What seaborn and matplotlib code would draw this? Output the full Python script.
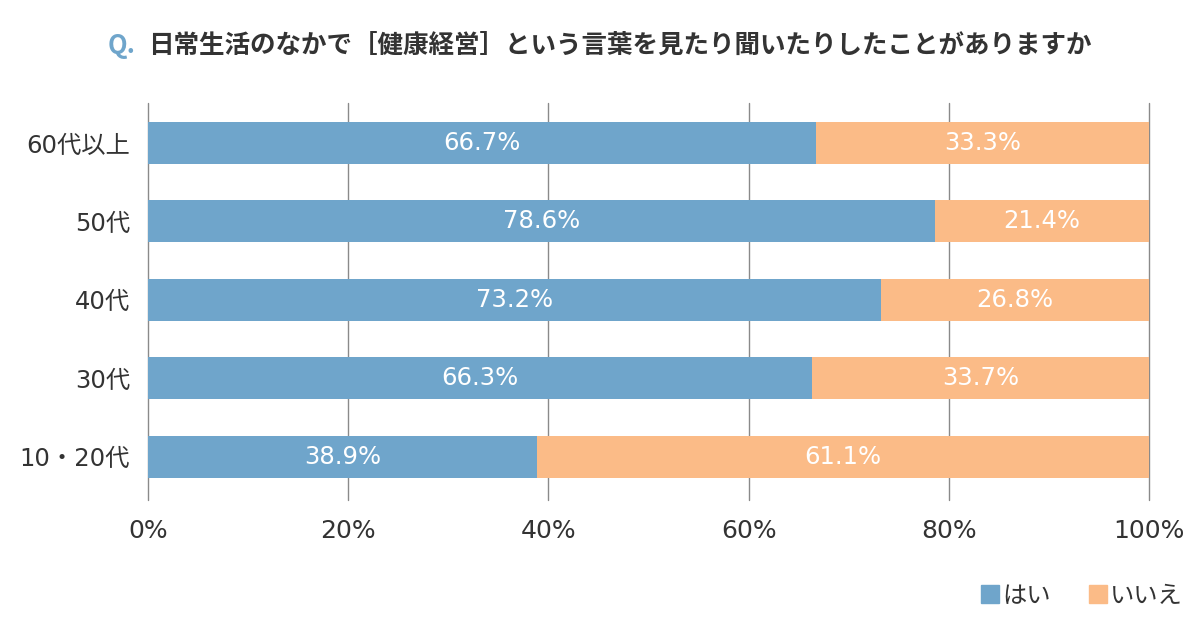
import matplotlib
matplotlib.use("Agg")
import matplotlib.pyplot as plt
import seaborn as sns
import pandas as pd
from matplotlib.lines import Line2D

categories = ["60代以上", "50代", "40代", "30代", "10・20代"]
yes = [66.7, 78.6, 73.2, 66.3, 38.9]
no = [33.3, 21.4, 26.8, 33.7, 61.1]
ticks = [0, 20, 40, 60, 80, 100]

blue = "#6fa5cb"
orange = "#fbbb87"
dark = "#333333"

sns.set_style("white")
plt.rcParams['font.family'] = ['DejaVu Sans', 'Noto Sans CJK JP']

df = pd.DataFrame({"cat": categories, "yes": yes, "no": no})
df["total"] = df["yes"] + df["no"]

fig = plt.figure(figsize=(12, 6.34), dpi=100)
ax = fig.add_axes([0.1233, 0.2114, 0.8342, 0.6261])

# orange full bar underneath, blue "yes" part on top
sns.barplot(data=df, y="cat", x="total", color=orange, orient="h", width=0.535,
            saturation=1, linewidth=0, ax=ax, zorder=3)
sns.barplot(data=df, y="cat", x="yes", color=blue, orient="h", width=0.535,
            saturation=1, linewidth=0, ax=ax, zorder=3)

for i, (y, n) in enumerate(zip(yes, no)):
    ax.text(y / 2, i, f"{y}%", color="white", ha="center", va="center", fontsize=17.5, zorder=4)
    ax.text(y + n / 2, i, f"{n}%", color="white", ha="center", va="center", fontsize=17.5, zorder=4)

ax.set_xlim(0, 100)
ax.set_ylim(4.55, -0.51)
ax.set_xticks(ticks)
ax.set_xticklabels([f"{t}%" for t in ticks])
ax.xaxis.grid(True, color="#8a8a8a", linewidth=1, zorder=0)
for gl in ax.get_xgridlines():
    gl.set_clip_on(False)
ax.set_axisbelow(True)
for s in ax.spines.values():
    s.set_visible(False)
ax.tick_params(axis="both", length=0, labelsize=18, colors=dark)
ax.tick_params(axis="y", labelsize=17.5, pad=13)
ax.tick_params(axis="x", pad=14)
ax.set_xlabel("")
ax.set_ylabel("")

fig.text(0.09, 0.928, "Q.", color=blue, fontsize=18.4, fontweight="bold", va="center",
         family=['Noto Sans CJK JP'])
fig.text(0.123, 0.928, "日常生活のなかで［健康経営］という言葉を見たり聞いたりしたことがありますか",
         color=dark, fontsize=18.4, fontweight="bold", va="center", family=['Noto Sans CJK JP'])

handles = [Line2D([], [], marker="s", linestyle="", markersize=13, color=blue),
           Line2D([], [], marker="s", linestyle="", markersize=13, color=orange)]
fig.legend(handles, ["はい", "いいえ"], loc="center right", bbox_to_anchor=(1.004, 0.06),
           ncol=2, frameon=False, handletextpad=0.05, columnspacing=1.5,
           handlelength=0.9, labelcolor=dark, prop={'family': ['Noto Sans CJK JP'], 'size': 17.5})

fig.savefig("out.png", dpi=100)
